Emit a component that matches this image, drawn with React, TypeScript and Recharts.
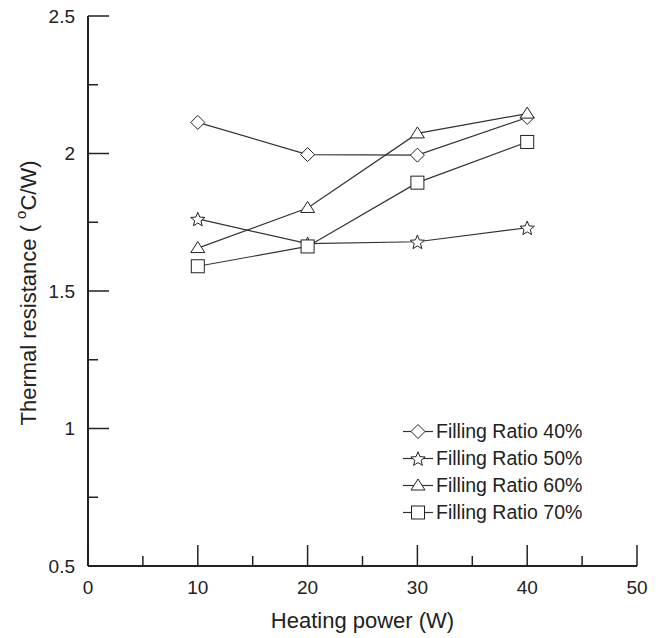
import React from "react";
import { LineChart, Line, XAxis, YAxis, Legend } from "recharts";

const powers = [10, 20, 30, 40];
const ratio40 = [2.113, 1.996, 1.994, 2.131];
const ratio50 = [1.762, 1.672, 1.679, 1.73];
const ratio60 = [1.656, 1.802, 2.073, 2.145];
const ratio70 = [1.59, 1.662, 1.894, 2.042];

const seriesNames = ["Filling Ratio 40%", "Filling Ratio 50%", "Filling Ratio 60%", "Filling Ratio 70%"];
const seriesKeys = ["r40", "r50", "r60", "r70"];
const seriesShapes = ["diamond", "star", "triangle", "square"];

const xTicks = [0, 5, 10, 15, 20, 25, 30, 35, 40, 45, 50];
const yTicks = [0.5, 0.75, 1, 1.25, 1.5, 1.75, 2, 2.25, 2.5];

const data = powers.map((p, i) => ({
  power: p,
  r40: ratio40[i],
  r50: ratio50[i],
  r60: ratio60[i],
  r70: ratio70[i],
}));

const FONT = "'Liberation Sans', Arial, sans-serif";
const INK = "#222";

function Marker({ shape, cx, cy }: { shape: string; cx: number; cy: number }) {
  const common = { fill: "#fff", stroke: INK, strokeWidth: 1 };
  if (shape === "diamond") {
    const r = 7;
    return <polygon points={`${cx},${cy - r} ${cx + r},${cy} ${cx},${cy + r} ${cx - r},${cy}`} {...common} />;
  }
  if (shape === "square") {
    const h = 6.5;
    return <rect x={cx - h} y={cy - h} width={2 * h} height={2 * h} {...common} />;
  }
  if (shape === "triangle") {
    const w = 7, up = 6.5, down = 4.5;
    return <polygon points={`${cx},${cy - up} ${cx + w},${cy + down} ${cx - w},${cy + down}`} {...common} />;
  }
  const pts: string[] = [];
  for (let i = 0; i < 10; i++) {
    const a = (-90 + i * 36) * Math.PI / 180;
    const r = i % 2 === 0 ? 7.5 : 3.3;
    pts.push(`${cx + r * Math.cos(a)},${cy + r * Math.sin(a) + 0.8}`);
  }
  return <polygon points={pts.join(" ")} {...common} />;
}

const makeDot = (shape: string) => (props: any) => {
  const { cx, cy, index } = props;
  if (cx == null || cy == null) return <g key={index} />;
  return <Marker key={index} shape={shape} cx={cx} cy={cy} />;
};

const isMajorX = (v: number) => v % 10 === 0;
const isMajorY = (v: number) => Math.abs(v * 2 - Math.round(v * 2)) < 1e-6;

const BottomTick = (props: any) => {
  const { x, y, payload } = props;
  const v = payload.value;
  const major = isMajorX(v);
  return (
    <g>
      <line x1={x} x2={x} y1={y} y2={y - (major ? 21 : 10)} stroke={INK} strokeWidth={1.5} />
      {major && (
        <text x={x} y={y + 21.5} textAnchor="middle" dominantBaseline="central" fontSize={19} fontFamily={FONT} fill={INK}>
          {v}
        </text>
      )}
    </g>
  );
};

const TopTick = (props: any) => {
  const { x, y, payload } = props;
  const major = isMajorX(payload.value);
  return <line x1={x} x2={x} y1={y} y2={y + (major ? 21 : 10)} stroke={INK} strokeWidth={1.5} />;
};

const LeftTick = (props: any) => {
  const { x, y, payload } = props;
  const v = payload.value;
  const major = isMajorY(v);
  return (
    <g>
      <line x1={x} x2={x + (major ? 21 : 10)} y1={y} y2={y} stroke={INK} strokeWidth={1.5} />
      {major && (
        <text x={x - 13} y={y} textAnchor="end" dominantBaseline="central" fontSize={19} fontFamily={FONT} fill={INK}>
          {String(v)}
        </text>
      )}
    </g>
  );
};

const RightTick = (props: any) => {
  const { x, y, payload } = props;
  const major = isMajorY(payload.value);
  return <line x1={x} x2={x - (major ? 21 : 10)} y1={y} y2={y} stroke={INK} strokeWidth={1.5} />;
};

const YLabel = (props: any) => {
  const vb = props.viewBox;
  const cx = vb.x + 27.5;
  const cy = vb.y + vb.height / 2 + 2;
  return (
    <text
      x={cx}
      y={cy}
      transform={`rotate(-90 ${cx} ${cy})`}
      textAnchor="middle"
      dominantBaseline="central"
      fontSize={22}
      fontFamily={FONT}
      fill={INK}
    >
      <tspan>Thermal resistance ( </tspan>
      <tspan dy={-8} fontSize={15}>o</tspan>
      <tspan dy={8}>C/W)</tspan>
    </text>
  );
};

const XLabel = (props: any) => {
  const vb = props.viewBox;
  const cx = vb.x + vb.width / 2;
  const cy = vb.y + 54.5;
  return (
    <text x={cx} y={cy} textAnchor="middle" dominantBaseline="central" fontSize={22} fontFamily={FONT} fill={INK}>
      Heating power (W)
    </text>
  );
};

const LegendContent = () => (
  <div style={{ fontFamily: FONT, fontSize: 19.5, color: INK }}>
    {seriesNames.map((name, i) => (
      <div key={name} style={{ display: "flex", alignItems: "center", height: 27, whiteSpace: "nowrap" }}>
        <svg width={33} height={27} style={{ display: "block" }}>
          <line x1={0} x2={30} y1={13.5} y2={13.5} stroke="#333" strokeWidth={1.2} />
          <Marker shape={seriesShapes[i]} cx={15} cy={13.5} />
        </svg>
        <span>{name}</span>
      </div>
    ))}
  </div>
);

export default function App() {
  return (
    <div style={{ width: 662, height: 638 }}>
      <style>{"body{margin:0;overflow:hidden}"}</style>
      <LineChart width={662} height={638} data={data} margin={{ top: 16, right: 25, bottom: 0, left: 0 }}>
        <XAxis
          dataKey="power"
          type="number"
          domain={[0, 50]}
          ticks={xTicks}
          interval={0}
          height={72}
          tickSize={0}
          tickMargin={0}
          tick={<BottomTick />}
          tickLine={false}
          axisLine={{ stroke: INK, strokeWidth: 2 }}
          label={<XLabel />}
        />
        <XAxis
          xAxisId="top"
          orientation="top"
          dataKey="power"
          type="number"
          domain={[0, 50]}
          ticks={xTicks}
          interval={0}
          height={0}
          tickSize={0}
          tickMargin={0}
          tick={<TopTick />}
          tickLine={false}
          axisLine={{ stroke: INK, strokeWidth: 2 }}
        />
        <YAxis
          type="number"
          domain={[0.5, 2.5]}
          ticks={yTicks}
          interval={0}
          width={88}
          tickSize={0}
          tickMargin={0}
          tick={<LeftTick />}
          tickLine={false}
          axisLine={{ stroke: INK, strokeWidth: 2 }}
          label={<YLabel />}
        />
        <YAxis
          yAxisId="right"
          orientation="right"
          type="number"
          domain={[0.5, 2.5]}
          ticks={yTicks}
          interval={0}
          width={0}
          tickSize={0}
          tickMargin={0}
          tick={<RightTick />}
          tickLine={false}
          axisLine={{ stroke: INK, strokeWidth: 2 }}
        />
        <Legend
          layout="vertical"
          align="center"
          verticalAlign="middle"
          content={<LegendContent />}
          wrapperStyle={{ left: 403, top: 417.5, width: 230, height: 110 }}
        />
        {seriesKeys.map((k, i) => (
          <Line
            key={k}
            dataKey={k}
            name={seriesNames[i]}
            type="linear"
            stroke="#333"
            strokeWidth={1.2}
            dot={makeDot(seriesShapes[i])}
            activeDot={false}
            isAnimationActive={false}
          />
        ))}
      </LineChart>
    </div>
  );
}
